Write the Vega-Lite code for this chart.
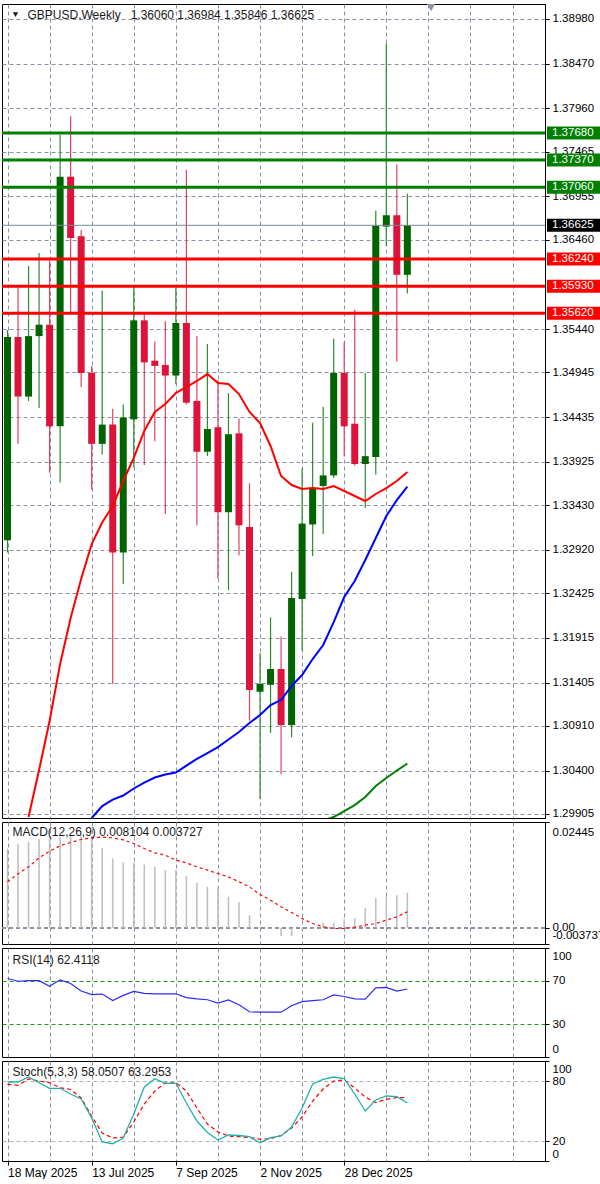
{
"$schema": "https://vega.github.io/schema/vega-lite/v6.json",
"background": "#ffffff",
"padding": {"top": 3, "left": 0, "right": 0, "bottom": 0},
"bounds": "flush",
"spacing": 4,
"config": {
  "view": {"stroke": "#000000", "strokeWidth": 1},
  "font": "Liberation Sans",
  "axis": {"labelFont": "Liberation Sans", "labelFontSize": 11.5, "labelColor": "#000000", "tickColor": "#000000", "domainColor": "#000000", "gridColor": "#8793a0", "gridDash": [4, 3], "gridWidth": 1, "gridOpacity": 1},
  "text": {"font": "Liberation Sans"}
},
"resolve": {"scale": {"x": "shared", "y": "independent", "color": "independent"}},
"datasets": {
  "w": [
    {"d": "2025-05-18", "o": 1.3303, "h": 1.3543, "l": 1.3289, "c": 1.3535, "ma1": null, "ma2": null, "ma3": null, "macd": 0.0183, "sig": 0.01063, "rsi": 72, "k": 79, "dd": 76.7},
    {"d": "2025-05-25", "o": 1.3535, "h": 1.3592, "l": 1.3413, "c": 1.3467, "ma1": null, "ma2": null, "ma3": null, "macd": 0.0193, "sig": 0.01248, "rsi": 69.5, "k": 79, "dd": 75.7},
    {"d": "2025-06-01", "o": 1.3467, "h": 1.3616, "l": 1.3462, "c": 1.3536, "ma1": 1.2987, "ma2": null, "ma3": null, "macd": 0.0199, "sig": 0.01409, "rsi": 70, "k": 84, "dd": 82},
    {"d": "2025-06-08", "o": 1.3536, "h": 1.3631, "l": 1.3454, "c": 1.3549, "ma1": 1.30407, "ma2": null, "ma3": null, "macd": 0.0205, "sig": 0.01617, "rsi": 70, "k": 78.3, "dd": 80},
    {"d": "2025-06-15", "o": 1.3549, "h": 1.3622, "l": 1.3380, "c": 1.3433, "ma1": 1.30966, "ma2": null, "ma3": null, "macd": 0.0205, "sig": 0.01771, "rsi": 64.8, "k": 72.7, "dd": 78.3},
    {"d": "2025-06-22", "o": 1.3433, "h": 1.3766, "l": 1.3369, "c": 1.3718, "ma1": 1.31617, "ma2": null, "ma3": null, "macd": 0.0210, "sig": 0.01895, "rsi": 70.8, "k": 72.7, "dd": 73.3},
    {"d": "2025-06-29", "o": 1.3718, "h": 1.3787, "l": 1.3562, "c": 1.3648, "ma1": 1.32142, "ma2": null, "ma3": null, "macd": 0.0213, "sig": 0.01972, "rsi": 67.5, "k": 67, "dd": 71.5},
    {"d": "2025-07-06", "o": 1.3650, "h": 1.3657, "l": 1.3478, "c": 1.3494, "ma1": 1.32587, "ma2": null, "ma3": null, "macd": 0.0214, "sig": 0.02041, "rsi": 60.5, "k": 62, "dd": 63},
    {"d": "2025-07-13", "o": 1.3494, "h": 1.3502, "l": 1.3361, "c": 1.3413, "ma1": 1.32987, "ma2": 1.29859, "ma3": null, "macd": 0.0213, "sig": 0.0208, "rsi": 57.3, "k": 43, "dd": 45},
    {"d": "2025-07-20", "o": 1.3413, "h": 1.3588, "l": 1.3401, "c": 1.3435, "ma1": 1.33232, "ma2": 1.29996, "ma3": null, "macd": 0.0185, "sig": 0.02095, "rsi": 57.7, "k": 19, "dd": 28},
    {"d": "2025-07-27", "o": 1.3435, "h": 1.3453, "l": 1.3139, "c": 1.3289, "ma1": 1.33421, "ma2": 1.3007, "ma3": null, "macd": 0.0160, "sig": 0.0208, "rsi": 51.8, "k": 17.3, "dd": 23},
    {"d": "2025-08-03", "o": 1.3289, "h": 1.3458, "l": 1.3253, "c": 1.3443, "ma1": 1.33706, "ma2": 1.30116, "ma3": null, "macd": 0.0151, "sig": 0.02033, "rsi": 56.5, "k": 23, "dd": 24},
    {"d": "2025-08-10", "o": 1.3441, "h": 1.3594, "l": 1.3386, "c": 1.3554, "ma1": 1.33969, "ma2": 1.30196, "ma3": null, "macd": 0.0151, "sig": 0.01949, "rsi": 60.2, "k": 47, "dd": 39},
    {"d": "2025-08-17", "o": 1.3554, "h": 1.3561, "l": 1.3389, "c": 1.3506, "ma1": 1.34277, "ma2": 1.30264, "ma3": null, "macd": 0.0146, "sig": 0.01833, "rsi": 58.3, "k": 74, "dd": 57},
    {"d": "2025-08-24", "o": 1.3508, "h": 1.3530, "l": 1.3416, "c": 1.3502, "ma1": 1.34494, "ma2": 1.30321, "ma3": null, "macd": 0.0141, "sig": 0.01733, "rsi": 58, "k": 82.3, "dd": 70},
    {"d": "2025-08-31", "o": 1.3503, "h": 1.3553, "l": 1.3333, "c": 1.3491, "ma1": 1.34585, "ma2": 1.30356, "ma3": null, "macd": 0.0133, "sig": 0.01679, "rsi": 58, "k": 77.7, "dd": 78},
    {"d": "2025-09-07", "o": 1.3491, "h": 1.3591, "l": 1.3481, "c": 1.3551, "ma1": 1.34711, "ma2": 1.30378, "ma3": null, "macd": 0.0133, "sig": 0.01563, "rsi": 58, "k": 77.7, "dd": 78.3},
    {"d": "2025-09-14", "o": 1.3551, "h": 1.3726, "l": 1.3458, "c": 1.3460, "ma1": 1.34779, "ma2": 1.30458, "ma3": null, "macd": 0.0119, "sig": 0.01502, "rsi": 54.5, "k": 58, "dd": 70},
    {"d": "2025-09-21", "o": 1.3462, "h": 1.3536, "l": 1.3320, "c": 1.3404, "ma1": 1.34848, "ma2": 1.30533, "ma3": null, "macd": 0.0104, "sig": 0.01409, "rsi": 53.3, "k": 40, "dd": 53},
    {"d": "2025-09-28", "o": 1.3404, "h": 1.3527, "l": 1.3399, "c": 1.3430, "ma1": 1.34927, "ma2": 1.30601, "ma3": null, "macd": 0.0095, "sig": 0.01332, "rsi": 52.5, "k": 28.5, "dd": 37},
    {"d": "2025-10-05", "o": 1.3432, "h": 1.3486, "l": 1.3259, "c": 1.3335, "ma1": 1.34825, "ma2": 1.30669, "ma3": null, "macd": 0.0095, "sig": 0.01255, "rsi": 49.5, "k": 21, "dd": 29},
    {"d": "2025-10-12", "o": 1.3335, "h": 1.3471, "l": 1.3246, "c": 1.3424, "ma1": 1.34813, "ma2": 1.30755, "ma3": null, "macd": 0.0072, "sig": 0.01178, "rsi": 52.3, "k": 26, "dd": 25},
    {"d": "2025-10-19", "o": 1.3425, "h": 1.3442, "l": 1.3286, "c": 1.3320, "ma1": 1.34699, "ma2": 1.30841, "ma3": null, "macd": 0.0059, "sig": 0.01063, "rsi": 48, "k": 25.5, "dd": 24.3},
    {"d": "2025-10-26", "o": 1.3318, "h": 1.3368, "l": 1.3097, "c": 1.3132, "ma1": 1.34494, "ma2": 1.30943, "ma3": null, "macd": 0.0029, "sig": 0.00947, "rsi": 41.5, "k": 24.3, "dd": 23.5},
    {"d": "2025-11-02", "o": 1.3130, "h": 1.3174, "l": 1.3008, "c": 1.3139, "ma1": 1.34368, "ma2": 1.31035, "ma3": null, "macd": 0.0002, "sig": 0.0077, "rsi": 41.1, "k": 18.3, "dd": 21.8},
    {"d": "2025-11-09", "o": 1.3138, "h": 1.3215, "l": 1.3083, "c": 1.3156, "ma1": 1.34106, "ma2": 1.31149, "ma3": null, "macd": -0.0002, "sig": 0.00639, "rsi": 41.1, "k": 23.3, "dd": 22.3},
    {"d": "2025-11-16", "o": 1.3156, "h": 1.3193, "l": 1.3036, "c": 1.3092, "ma1": 1.33763, "ma2": 1.31206, "ma3": null, "macd": -0.0019, "sig": 0.00485, "rsi": 41.1, "k": 25, "dd": 25.5},
    {"d": "2025-11-23", "o": 1.3092, "h": 1.3267, "l": 1.3078, "c": 1.3237, "ma1": 1.3366, "ma2": 1.31366, "ma3": null, "macd": -0.0019, "sig": 0.00354, "rsi": 47, "k": 34, "dd": 33},
    {"d": "2025-11-30", "o": 1.3236, "h": 1.3385, "l": 1.3177, "c": 1.3322, "ma1": 1.33615, "ma2": 1.31491, "ma3": null, "macd": -0.0005, "sig": 0.00216, "rsi": 50.8, "k": 53, "dd": 44},
    {"d": "2025-12-07", "o": 1.3321, "h": 1.3437, "l": 1.3285, "c": 1.3363, "ma1": 1.33626, "ma2": 1.31674, "ma3": null, "macd": -0.0002, "sig": 0.001, "rsi": 51.7, "k": 77, "dd": 60},
    {"d": "2025-12-14", "o": 1.3365, "h": 1.3455, "l": 1.3310, "c": 1.3377, "ma1": 1.33615, "ma2": 1.31834, "ma3": 1.2983, "macd": 0.0012, "sig": 0.00023, "rsi": 52.5, "k": 81.7, "dd": 72},
    {"d": "2025-12-21", "o": 1.3377, "h": 1.3533, "l": 1.3374, "c": 1.3494, "ma1": 1.33649, "ma2": 1.32096, "ma3": 1.2987, "macd": 0.0012, "sig": -0.00015, "rsi": 57, "k": 84, "dd": 80},
    {"d": "2025-12-28", "o": 1.3494, "h": 1.3529, "l": 1.3399, "c": 1.3433, "ma1": 1.33592, "ma2": 1.32382, "ma3": 1.29939, "macd": 0.0020, "sig": -0.00015, "rsi": 55.5, "k": 82.3, "dd": 81},
    {"d": "2026-01-04", "o": 1.3436, "h": 1.3566, "l": 1.3388, "c": 1.3390, "ma1": 1.33535, "ma2": 1.32564, "ma3": 1.30007, "macd": 0.0022, "sig": 0.00015, "rsi": 53.4, "k": 67, "dd": 73},
    {"d": "2026-01-11", "o": 1.3390, "h": 1.3494, "l": 1.3340, "c": 1.3399, "ma1": 1.33478, "ma2": 1.32804, "ma3": 1.30099, "macd": 0.0045, "sig": 0.00062, "rsi": 53.1, "k": 50, "dd": 64},
    {"d": "2026-01-18", "o": 1.3398, "h": 1.3679, "l": 1.3378, "c": 1.3662, "ma1": 1.33558, "ma2": 1.33055, "ma3": 1.30224, "macd": 0.0069, "sig": 0.001, "rsi": 63.5, "k": 61, "dd": 58.5},
    {"d": "2026-01-25", "o": 1.3661, "h": 1.3870, "l": 1.3639, "c": 1.3674, "ma1": 1.33626, "ma2": 1.33306, "ma3": 1.30316, "macd": 0.0072, "sig": 0.00177, "rsi": 63.8, "k": 65, "dd": 61.7},
    {"d": "2026-02-01", "o": 1.3674, "h": 1.3732, "l": 1.3507, "c": 1.3606, "ma1": 1.33706, "ma2": 1.33489, "ma3": 1.30401, "macd": 0.0075, "sig": 0.00254, "rsi": 60.5, "k": 64.3, "dd": 63.3},
    {"d": "2026-02-08", "o": 1.3606, "h": 1.36984, "l": 1.35846, "c": 1.36625, "ma1": 1.33809, "ma2": 1.33643, "ma3": 1.30481, "macd": 0.008104, "sig": 0.003727, "rsi": 62.4118, "k": 58.0507, "dd": 63.2953}
  ],
  "levels": [
    {"lvl": 1.3768, "kind": "resistance"},
    {"lvl": 1.3737, "kind": "resistance"},
    {"lvl": 1.3706, "kind": "resistance"},
    {"lvl": 1.3624, "kind": "support"},
    {"lvl": 1.3593, "kind": "support"},
    {"lvl": 1.3562, "kind": "support"},
    {"lvl": 1.36625, "kind": "bid"}
  ]
},
"vconcat": [
  {
    "width": 543, "height": 814,
    "data": {"name": "w"},
    "layer": [
      {
        "mark": {"type": "rule", "strokeWidth": 1.2, "clip": true},
        "encoding": {
          "x": {"field": "d", "type": "temporal", "scale": {"type": "utc", "domain": [{"year": 2025, "month": 5, "date": 17, "hours": 16, "utc": true}, {"year": 2026, "month": 5, "date": 7, "hours": 6, "utc": true}]}, "axis": {"values": [1747526400000, 1749945600000, 1752364800000, 1754784000000, 1757203200000, 1759622400000, 1762041600000, 1764460800000, 1766880000000, 1769299200000, 1771718400000, 1774137600000, 1776556800000], "tickCount": 40, "grid": true, "labels": false, "ticks": false, "domain": false, "title": null}},
          "y": {"field": "l", "type": "quantitative", "scale": {"domain": [1.298593, 1.391512], "nice": false, "zero": false}, "axis": {"orient": "right", "values": [1.3898, 1.3847, 1.3796, 1.37465, 1.36955, 1.3646, 1.3544, 1.34945, 1.34435, 1.33925, 1.3343, 1.3292, 1.32425, 1.31915, 1.31405, 1.3091, 1.304, 1.29905], "tickCount": 40, "format": ".5f", "grid": true, "tickSize": 4, "labelPadding": 3, "labelOverlap": false, "labelFlush": false, "title": null, "domain": true}},
          "y2": {"field": "h"},
          "color": {"condition": {"test": "datum.c >= datum.o", "value": "#2e8b2e"}, "value": "#e0405e"}
        }
      },
      {
        "mark": {"type": "bar", "width": 7, "clip": true},
        "encoding": {
          "x": {"field": "d", "type": "temporal", "scale": {"type": "utc", "domain": [{"year": 2025, "month": 5, "date": 17, "hours": 16, "utc": true}, {"year": 2026, "month": 5, "date": 7, "hours": 6, "utc": true}]}, "axis": {"title": null}},
          "y": {"field": "o", "type": "quantitative", "scale": {"domain": [1.298593, 1.391512], "nice": false, "zero": false}, "axis": {"title": null}},
          "y2": {"field": "c"},
          "color": {"condition": {"test": "datum.c >= datum.o", "value": "#006400"}, "value": "#dc143c"}
        }
      },
      {
        "mark": {"type": "line", "color": "#ff0000", "strokeWidth": 2, "clip": true},
        "encoding": {
          "x": {"field": "d", "type": "temporal", "scale": {"type": "utc", "domain": [{"year": 2025, "month": 5, "date": 17, "hours": 16, "utc": true}, {"year": 2026, "month": 5, "date": 7, "hours": 6, "utc": true}]}, "axis": {"title": null}},
          "y": {"field": "ma1", "type": "quantitative", "scale": {"domain": [1.298593, 1.391512], "nice": false, "zero": false}, "axis": {"title": null}}
        }
      },
      {
        "mark": {"type": "line", "color": "#0000ff", "strokeWidth": 2, "clip": true},
        "encoding": {
          "x": {"field": "d", "type": "temporal", "scale": {"type": "utc", "domain": [{"year": 2025, "month": 5, "date": 17, "hours": 16, "utc": true}, {"year": 2026, "month": 5, "date": 7, "hours": 6, "utc": true}]}, "axis": {"title": null}},
          "y": {"field": "ma2", "type": "quantitative", "scale": {"domain": [1.298593, 1.391512], "nice": false, "zero": false}, "axis": {"title": null}}
        }
      },
      {
        "mark": {"type": "line", "color": "#008000", "strokeWidth": 2, "clip": true},
        "encoding": {
          "x": {"field": "d", "type": "temporal", "scale": {"type": "utc", "domain": [{"year": 2025, "month": 5, "date": 17, "hours": 16, "utc": true}, {"year": 2026, "month": 5, "date": 7, "hours": 6, "utc": true}]}, "axis": {"title": null}},
          "y": {"field": "ma3", "type": "quantitative", "scale": {"domain": [1.298593, 1.391512], "nice": false, "zero": false}, "axis": {"title": null}}
        }
      },
      {
        "data": {"name": "levels"},
        "transform": [{"filter": "datum.kind == 'bid'"}],
        "mark": {"type": "rule", "color": "#7a8898", "strokeWidth": 1},
        "encoding": {
          "y": {"field": "lvl", "type": "quantitative", "scale": {"domain": [1.298593, 1.391512], "nice": false, "zero": false}, "axis": {"title": null}}
        }
      },
      {
        "data": {"name": "levels"},
        "transform": [{"filter": "datum.kind != 'bid'"}],
        "mark": {"type": "rule", "strokeWidth": 3},
        "encoding": {
          "y": {"field": "lvl", "type": "quantitative", "scale": {"domain": [1.298593, 1.391512], "nice": false, "zero": false}, "axis": {"title": null}},
          "color": {"field": "kind", "type": "nominal", "scale": {"domain": ["resistance", "support", "bid"], "range": ["#008000", "#ff0000", "#000000"]}, "legend": null}
        }
      },
      {
        "data": {"name": "levels"},
        "mark": {"type": "tick", "orient": "horizontal", "thickness": 13, "size": 57, "xOffset": 30.5, "opacity": 1},
        "encoding": {
          "x": {"value": "width"},
          "y": {"field": "lvl", "type": "quantitative", "scale": {"domain": [1.298593, 1.391512], "nice": false, "zero": false}, "axis": {"title": null}},
          "color": {"field": "kind", "type": "nominal", "scale": {"domain": ["resistance", "support", "bid"], "range": ["#008000", "#ff0000", "#000000"]}, "legend": null}
        }
      },
      {
        "data": {"name": "levels"},
        "mark": {"type": "text", "align": "left", "baseline": "middle", "dx": 7, "fontSize": 11.5, "color": "#ffffff"},
        "encoding": {
          "x": {"value": "width"},
          "y": {"field": "lvl", "type": "quantitative", "scale": {"domain": [1.298593, 1.391512], "nice": false, "zero": false}, "axis": {"title": null}},
          "text": {"field": "lvl", "type": "quantitative", "format": ".5f"}
        }
      },
      {
        "data": {"values": [{"label": "GBPUSD,Weekly\u00a0\u00a0 1.36060 1.36984 1.35846 1.36625"}]},
        "mark": {"type": "text", "align": "left", "baseline": "middle", "dx": 20, "fontSize": 12, "color": "#1a1a1a"},
        "encoding": {
          "x": {"datum": {"year": 2025, "month": 5, "date": 18, "utc": true}, "type": "temporal", "axis": {"title": null}},
          "y": {"datum": 1.3903, "type": "quantitative", "axis": {"title": null}},
          "text": {"field": "label"}
        }
      },
      {
        "data": {"values": [{"label": "symbol"}]},
        "mark": {"type": "point", "shape": "triangle-down", "filled": true, "size": 28, "xOffset": 8, "color": "#1a1a1a", "opacity": 1},
        "encoding": {
          "x": {"datum": {"year": 2025, "month": 5, "date": 18, "utc": true}, "type": "temporal", "axis": {"title": null}},
          "y": {"datum": 1.3903, "type": "quantitative", "axis": {"title": null}}
        }
      },
      {
        "data": {"values": [{"label": "shift"}]},
        "mark": {"type": "point", "shape": "triangle-down", "filled": true, "size": 70, "color": "#8a96a6", "opacity": 1},
        "encoding": {
          "x": {"datum": {"year": 2026, "month": 2, "date": 23, "hours": 19, "utc": true}, "type": "temporal", "axis": {"title": null}},
          "y": {"datum": 1.3911, "type": "quantitative", "axis": {"title": null}}
        }
      }
    ]
  },
  {
    "width": 543, "height": 122,
    "data": {"name": "w"},
    "layer": [
      {
        "mark": {"type": "rule", "color": "#8793a0", "strokeDash": [4, 3], "strokeWidth": 1},
        "encoding": {
          "y": {"datum": 0, "type": "quantitative", "scale": {"domain": [-0.003737, 0.02445], "nice": false, "zero": false}, "axis": {"title": null}}
        }
      },
      {
        "mark": {"type": "rule", "color": "#c0c0c0", "strokeWidth": 1.6},
        "encoding": {
          "x": {"field": "d", "type": "temporal", "scale": {"type": "utc", "domain": [{"year": 2025, "month": 5, "date": 17, "hours": 16, "utc": true}, {"year": 2026, "month": 5, "date": 7, "hours": 6, "utc": true}]}, "axis": {"values": [1747526400000, 1749945600000, 1752364800000, 1754784000000, 1757203200000, 1759622400000, 1762041600000, 1764460800000, 1766880000000, 1769299200000, 1771718400000, 1774137600000, 1776556800000], "tickCount": 40, "grid": true, "labels": false, "ticks": false, "domain": false, "title": null}},
          "y": {"field": "macd", "type": "quantitative", "scale": {"domain": [-0.003737, 0.02445], "nice": false, "zero": false}, "axis": {"orient": "right", "values": [-0.003737, 0, 0.02445], "tickCount": 10, "labelExpr": "datum.value == 0 ? '0.00' : toString(datum.value)", "grid": false, "tickSize": 4, "labelPadding": 3, "labelOverlap": false, "labelFlush": true, "labelFlushOffset": -4, "title": null, "domain": true}},
          "y2": {"datum": 0}
        }
      },
      {
        "mark": {"type": "line", "color": "#ff0000", "strokeWidth": 1.2, "strokeDash": [3, 3]},
        "encoding": {
          "x": {"field": "d", "type": "temporal", "scale": {"type": "utc", "domain": [{"year": 2025, "month": 5, "date": 17, "hours": 16, "utc": true}, {"year": 2026, "month": 5, "date": 7, "hours": 6, "utc": true}]}, "axis": {"title": null}},
          "y": {"field": "sig", "type": "quantitative", "scale": {"domain": [-0.003737, 0.02445], "nice": false, "zero": false}, "axis": {"title": null}}
        }
      },
      {
        "data": {"values": [{"label": "MACD(12,26,9) 0.008104 0.003727"}]},
        "mark": {"type": "text", "align": "left", "baseline": "middle", "dx": 5, "fontSize": 12, "color": "#1a1a1a"},
        "encoding": {
          "x": {"datum": {"year": 2025, "month": 5, "date": 18, "utc": true}, "type": "temporal", "axis": {"title": null}},
          "y": {"datum": 0.0221, "type": "quantitative", "axis": {"title": null}},
          "text": {"field": "label"}
        }
      }
    ]
  },
  {
    "width": 543, "height": 109,
    "data": {"name": "w"},
    "layer": [
      {
        "mark": {"type": "line", "color": "#2b2bff", "strokeWidth": 1.2},
        "encoding": {
          "x": {"field": "d", "type": "temporal", "scale": {"type": "utc", "domain": [{"year": 2025, "month": 5, "date": 17, "hours": 16, "utc": true}, {"year": 2026, "month": 5, "date": 7, "hours": 6, "utc": true}]}, "axis": {"values": [1747526400000, 1749945600000, 1752364800000, 1754784000000, 1757203200000, 1759622400000, 1762041600000, 1764460800000, 1766880000000, 1769299200000, 1771718400000, 1774137600000, 1776556800000], "tickCount": 40, "grid": true, "labels": false, "ticks": false, "domain": false, "title": null}},
          "y": {"field": "rsi", "type": "quantitative", "scale": {"domain": [0, 100], "nice": false}, "axis": {"orient": "right", "values": [0, 30, 70, 100], "tickCount": 10, "labelExpr": "toString(datum.value)", "grid": true, "gridColor": {"condition": {"test": "datum.value == 30 || datum.value == 70", "value": "#1f9a1f"}, "value": "#ffffff"}, "gridOpacity": {"condition": {"test": "datum.value == 30 || datum.value == 70", "value": 1}, "value": 0}, "tickSize": 4, "labelPadding": 3, "labelOverlap": false, "labelFlush": false, "labelBaseline": {"condition": [{"test": "datum.value == 100", "value": "top"}, {"test": "datum.value == 0", "value": "bottom"}], "value": "middle"}, "labelOffset": {"condition": [{"test": "datum.value == 100", "value": 2}, {"test": "datum.value == 0", "value": -3}], "value": 0}, "title": null, "domain": true}}
        }
      },
      {
        "data": {"values": [{"label": "RSI(14) 62.4118"}]},
        "mark": {"type": "text", "align": "left", "baseline": "middle", "dx": 5, "fontSize": 12, "color": "#1a1a1a"},
        "encoding": {
          "x": {"datum": {"year": 2025, "month": 5, "date": 18, "utc": true}, "type": "temporal", "axis": {"title": null}},
          "y": {"datum": 89.4, "type": "quantitative", "axis": {"title": null}},
          "text": {"field": "label"}
        }
      }
    ]
  },
  {
    "width": 543, "height": 100,
    "data": {"name": "w"},
    "layer": [
      {
        "mark": {"type": "line", "color": "#ff0000", "strokeWidth": 1.2, "strokeDash": [4, 3]},
        "encoding": {
          "x": {"field": "d", "type": "temporal", "scale": {"type": "utc", "domain": [{"year": 2025, "month": 5, "date": 17, "hours": 16, "utc": true}, {"year": 2026, "month": 5, "date": 7, "hours": 6, "utc": true}]}, "axis": {"values": [1747526400000, 1749945600000, 1752364800000, 1754784000000, 1757203200000, 1759622400000, 1762041600000, 1764460800000, 1766880000000, 1769299200000, 1771718400000, 1774137600000, 1776556800000], "tickCount": 40, "grid": true, "labelExpr": "((datum.value - 1747526400000) % 4838400000 == 0 && datum.value < 1767000000000) ? utcFormat(datum.value, '%-d %b %Y') : ''", "tickOpacity": {"condition": {"test": "(datum.value - 1747526400000) % 4838400000 == 0 && datum.value < 1767000000000", "value": 1}, "value": 0}, "labelAlign": "left", "labelBaseline": "top", "labelFlush": false, "labelOverlap": false, "labelFontSize": 12, "labelPadding": 2, "tickSize": 4, "domain": false, "title": null}},
          "y": {"field": "dd", "type": "quantitative", "scale": {"domain": [0, 100], "nice": false}, "axis": {"orient": "right", "values": [0, 20, 80, 100], "tickCount": 10, "labelExpr": "toString(datum.value)", "grid": true, "gridColor": {"condition": {"test": "datum.value == 20 || datum.value == 80", "value": "#b0b0b0"}, "value": "#ffffff"}, "gridOpacity": {"condition": {"test": "datum.value == 20 || datum.value == 80", "value": 1}, "value": 0}, "tickSize": 4, "labelPadding": 3, "labelOverlap": false, "labelFlush": false, "labelBaseline": {"condition": [{"test": "datum.value == 100", "value": "top"}, {"test": "datum.value == 0", "value": "bottom"}], "value": "middle"}, "labelOffset": {"condition": [{"test": "datum.value == 100", "value": 2}, {"test": "datum.value == 0", "value": -2}], "value": 0}, "title": null, "domain": true}}
        }
      },
      {
        "mark": {"type": "line", "color": "#20b2aa", "strokeWidth": 1.3},
        "encoding": {
          "x": {"field": "d", "type": "temporal", "scale": {"type": "utc", "domain": [{"year": 2025, "month": 5, "date": 17, "hours": 16, "utc": true}, {"year": 2026, "month": 5, "date": 7, "hours": 6, "utc": true}]}, "axis": {"title": null}},
          "y": {"field": "k", "type": "quantitative", "scale": {"domain": [0, 100], "nice": false}, "axis": {"title": null}}
        }
      },
      {
        "data": {"values": [{"label": "Stoch(5,3,3) 58.0507 63.2953"}]},
        "mark": {"type": "text", "align": "left", "baseline": "middle", "dx": 5, "fontSize": 12, "color": "#1a1a1a"},
        "encoding": {
          "x": {"datum": {"year": 2025, "month": 5, "date": 18, "utc": true}, "type": "temporal", "axis": {"title": null}},
          "y": {"datum": 89.5, "type": "quantitative", "axis": {"title": null}},
          "text": {"field": "label"}
        }
      }
    ]
  }
]
}
